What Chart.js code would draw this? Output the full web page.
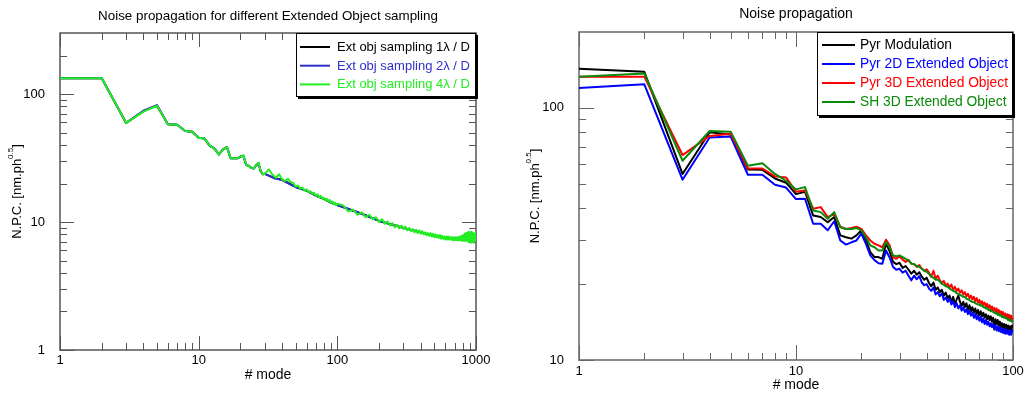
<!DOCTYPE html>
<html>
<head>
<meta charset="utf-8">
<script src="https://cdn.jsdelivr.net/npm/chart.js@4.4.0/dist/chart.umd.min.js"></script>
<style>
  html, body { margin: 0; padding: 0; background: #fff; }
  #wrap { position: relative; width: 1024px; height: 394px; overflow: hidden; }
  canvas { position: absolute; top: 0; }
  #left { left: 0; }
  #right { left: 512px; }
</style>
</head>
<body>
<div id="wrap">
  <canvas id="left" width="512" height="394"></canvas>
  <canvas id="right" width="512" height="394"></canvas>
</div>
<script>
const FONT = 'Liberation Sans, Arial, Helvetica, sans-serif';

// ---- left panel: Ext obj sampling ----
const leftModes = [
  1,2,3,4,5,6,7,8,9,10,11,12,13,14,15,16,17,18,19,20,21,22,23,24,25,26,27,28,29,30,
  32,34,36,38,40,42,44,46,48,50,52,54,56,58,60,62,64,66,68,70,72,74,76,78,80,82,84,86,88,90,92,94,96,98,100,
  110,120,130,140,150,160,170,180,190,200,210,220,230,240,250,260,270,280,290,300,
  310,320,330,340,350,360,370,380,390,400,410,420,430,440,450,460,470,480,490,500,
  510,520,530,540,550,560,570,580,590,600,610,620,630,640,650,660,670,680,690,700,
  710,720,730,740,750,760,770,780,790,800,810,820,830,840,850,860,870,880,890,900,
  910,920,930,940,950,960,970,980,990,1000
];
const leftSampling4 = [
  133,133,59.5,73,81,58,57.5,51.5,50.8,45.5,45,39.5,37.5,33.8,37,38.5,31.5,31.5,31.5,32.5,33.2,28,27.4,26.5,26.2,28,29,25,23.6,23.8,
  25.8,23.5,22.2,23.6,21.5,20.9,21.8,20.5,20.3,18.9,19.3,18.2,18.6,17.6,18.0,17.1,17.4,16.6,16.9,16.0,16.5,15.6,16.0,15.1,15.5,14.8,15.2,14.5,14.9,14.1,14.5,13.8,14.2,13.5,13.9,
  13.5,12.1,12.5,11.4,11.9,10.9,11.4,10.5,10.9,10.0,10.5,9.7,10.1,9.4,9.8,9.1,9.5,8.9,9.4,8.8,
  9.2,8.6,9.0,8.5,8.8,8.3,8.7,8.2,8.6,8.1,8.5,8.0,8.3,7.9,8.2,7.8,8.2,7.7,8.1,7.6,
  8.0,7.6,7.9,7.5,7.9,7.4,7.8,7.4,7.7,7.3,7.7,7.3,7.7,7.3,7.6,7.3,7.6,7.2,7.6,7.2,
  7.6,7.2,7.6,7.2,7.6,7.2,7.7,7.2,7.8,7.1,7.9,7.2,8.1,7.1,8.2,7.2,8.3,7.0,8.4,7.1,
  8.3,6.9,8.4,7.0,8.2,6.9,8.1,7.1,8.2,7.3
];
const coarseModes = [
  1,2,3,4,5,6,7,8,9,10,11,12,13,14,15,16,17,18,19,20,21,22,23,24,25,26,27,28,29,30,
  35,40,50,60,70,80,90,100,150,200,300,400,500,600,700,800,900,1000
];
const leftSampling1 = [
  133,133,59.5,73.5,81.5,58,57.5,51.5,50.8,45.5,45,39.5,37.5,33.8,37,38.5,31.5,31.5,31.5,32.5,33.0,28,27.4,26.5,26.2,27.8,28.8,25,23.6,23.8,
  22.1,21.4,18.8,17.6,16.1,15.2,14.2,13.6,11.6,10.2,9.0,8.3,7.8,7.5,7.4,7.4,7.5,7.6
];
const leftSampling2 = [
  133,133,59.5,74,82,58,57.5,51.5,50.8,45.5,45,39.5,37.5,33.8,37,38.5,31.5,31.5,31.5,32.5,33.0,28,27.4,26.5,26.2,27.8,28.8,25,23.6,23.8,
  22.0,21.3,18.7,17.6,16.1,15.2,14.2,13.6,11.6,10.2,9.0,8.3,7.8,7.5,7.4,7.4,7.5,7.6
];

// ---- right panel: noise propagation ----
const rightModes = [
  1,2,3,4,5,6,7,8,9,10,11,12,13,14,15,16,17,18,19,20,21,22,23,24,25,26,27,28,29,30,
  31,32,33,34,35,36,37,38,39,40,41,42,43,44,45,46,47,48,49,50,51,52,53,54,55,56,57,58,59,60,
  61,62,63,64,65,66,67,68,69,70,71,72,73,74,75,76,77,78,79,80,81,82,83,84,85,86,87,88,89,90,
  91,92,93,94,95,96,97,98,99,100
];
const pyrModulation = [
  143,139,54.7,80,78.4,57,56.8,52.5,50.5,45.5,46.5,37.4,36.9,35.2,36.9,31.2,30.7,30.3,31.2,32.7,30.0,26.8,25.6,25.6,25.2,29.0,27.0,24.5,24.0,24.3,
  23.2,23.6,22.8,22.0,22.6,21.8,22.3,21.4,20.8,21.2,20.2,19.6,20.3,19.0,19.4,18.6,19.0,18.0,18.5,17.6,18.0,17.0,17.8,16.6,17.4,18.0,17.0,16.4,17.0,16.2,
  16.8,15.8,16.5,15.6,16.2,15.4,16.0,15.2,15.8,15.0,15.6,14.9,15.4,14.7,15.2,14.5,15.0,14.4,14.9,14.2,14.7,13.2,14.5,13.9,14.4,13.7,14.2,13.5,14.0,13.4,
  13.9,13.0,13.8,13.2,13.7,12.9,13.6,13.1,13.7,13.5
];
const pyr2D = [
  120,124,51.9,76.3,77,54.3,54.3,49.6,48.3,43.5,43.6,34.7,34.7,32.7,35.5,29.8,28.7,29.3,29.8,31.7,28.9,26.0,24.9,24.2,24.1,27.2,25.5,23.4,22.8,23.0,
  22.2,22.6,21.6,20.7,21.6,20.9,21.5,20.3,19.8,20.0,19.2,18.8,19.4,18.2,18.6,17.9,18.4,17.3,17.7,17.0,17.5,16.6,17.1,16.2,16.8,16.0,16.5,15.7,16.2,15.5,
  15.9,15.2,15.7,15.0,15.4,14.7,15.2,14.5,15.0,14.3,14.8,14.1,14.6,13.9,14.4,13.8,14.2,13.6,14.0,13.5,13.9,13.3,13.7,13.1,13.6,13.0,13.5,12.9,13.3,12.8,
  13.3,12.7,13.2,12.7,13.1,12.6,13.1,12.6,13.0,13.2
];
const pyr3D = [
  133,133,65,77.4,79,57.5,57.5,53.5,53,46.5,47,39.8,40.4,36.9,38.0,33.8,33.1,33.4,33.8,33.1,31.2,29.8,28.9,28.5,28.0,30.0,28.5,25.6,25.2,25.8,
  25.0,24.5,24.9,24.1,24.0,23.4,23.8,23.0,22.6,22.9,22.2,21.4,22.6,21.0,21.6,20.7,20.2,20.6,19.7,20.1,19.4,19.9,19.0,19.5,18.8,19.2,18.5,18.9,18.2,18.6,
  17.9,18.3,17.6,18.0,17.4,17.8,17.1,17.6,16.9,17.3,16.7,17.1,16.5,16.9,16.3,16.7,16.1,16.5,15.9,16.3,15.7,16.1,15.5,16.0,15.3,15.8,15.2,15.6,15.0,15.5,
  14.9,15.3,14.8,15.2,14.6,15.1,14.5,15.0,14.4,14.8
];
const sh3D = [
  133,137,61.7,81,80.5,59,60.3,54.7,51.4,47.5,48.5,39.2,38.6,36.3,38.6,33.6,33.1,33.1,33.4,32.7,30.7,28.5,28.0,27.2,27.2,29.4,28.0,26.0,25.8,26.0,
  25.6,25.2,24.9,24.1,24.0,23.6,23.4,23.0,22.6,22.4,22.0,21.4,21.2,20.8,20.8,20.5,20.0,19.9,19.6,19.5,19.2,19.0,18.8,18.7,18.4,18.3,18.1,18.0,17.8,17.8,
  17.5,17.4,17.3,17.1,17.0,17.0,16.8,16.7,16.6,16.6,16.4,16.5,16.2,16.2,16.0,16.1,15.8,15.8,15.6,15.7,15.5,15.4,15.3,15.4,15.1,15.2,15.0,15.1,14.8,14.9,
  14.7,14.8,14.6,14.6,14.4,14.5,14.3,14.4,14.2,14.3
];

// axis ticks
const leftXMajor = [1, 10, 100, 1000];
const leftXMinor = [2,3,4,5,6,7,8,9,20,30,40,50,60,70,80,90,200,300,400,500,600,700,800,900];
const leftYMajor = [1, 10, 100];
const leftYMinor = [2,3,4,5,6,7,8,9,20,30,40,50,60,70,80,90,200];
const rightXMajor = [1, 10, 100];
const rightXMinor = [2,3,4,5,6,7,8,9,20,30,40,50,60,70,80,90];
const rightYMajor = [10, 100];
const rightYMinor = [20,30,40,50,60,70,80,90];

function pts(xs, ys) {
  return xs.map((x, i) => ({ x: x, y: ys[i] }));
}

// inward ticks on all four sides + frame, title, y title with superscript
const idlAxes = {
  id: 'idlAxes',
  beforeDatasetsDraw(chart, args, o) {
    const { ctx, chartArea: a, scales: { x, y } } = chart;
    ctx.save();
    ctx.strokeStyle = o.color;
    ctx.lineWidth = 1;
    ctx.beginPath();
    const xt = (vals, len) => vals.forEach(v => {
      const px = Math.round(x.getPixelForValue(v)) + 0.5;
      ctx.moveTo(px, a.bottom); ctx.lineTo(px, a.bottom - len);
      ctx.moveTo(px, a.top); ctx.lineTo(px, a.top + len);
    });
    const yt = (vals, len) => vals.forEach(v => {
      const py = Math.round(y.getPixelForValue(v)) + 0.5;
      ctx.moveTo(a.left, py); ctx.lineTo(a.left + len, py);
      ctx.moveTo(a.right, py); ctx.lineTo(a.right - len, py);
    });
    xt(o.xMajor, o.majorLen); xt(o.xMinor, o.minorLen);
    yt(o.yMajor, o.majorLen); yt(o.yMinor, o.minorLen);
    ctx.stroke();
    ctx.lineWidth = 1.5;
    ctx.strokeRect(a.left, a.top, a.right - a.left, a.bottom - a.top);
    ctx.restore();
  },
  afterDraw(chart, args, o) {
    const { ctx, chartArea: a } = chart;
    ctx.save();
    ctx.fillStyle = '#000';
    ctx.textAlign = 'center';
    ctx.textBaseline = 'middle';
    ctx.font = o.titleSize + 'px ' + FONT;
    ctx.fillText(o.title, (a.left + a.right) / 2, o.titleY);

    // y title: N.P.C. [nm.ph^0.5]
    const s = o.yTitleSize;
    const f1 = s + 'px ' + FONT, f2 = Math.round(s * 0.62) + 'px ' + FONT;
    ctx.translate(o.yTitleX, (a.top + a.bottom) / 2);
    ctx.rotate(-Math.PI / 2);
    ctx.textAlign = 'left';
    ctx.font = f1;
    const w1 = ctx.measureText('N.P.C. [nm.ph').width;
    const w3 = ctx.measureText(']').width;
    ctx.font = f2;
    const w2 = ctx.measureText('0.5').width;
    let xx = -(w1 + w2 + w3) / 2;
    ctx.font = f1;
    ctx.fillText('N.P.C. [nm.ph', xx, 0);
    xx += w1;
    ctx.font = f2;
    ctx.fillText('0.5', xx, -s * 0.45);
    xx += w2;
    ctx.font = f1;
    ctx.fillText(']', xx, 0);
    ctx.restore();
  }
};

// boxed legend with drop shadow, top right inside the plot
const boxLegend = {
  id: 'boxLegend',
  afterDatasetsDraw(chart, args, o) {
    const { ctx, chartArea: a } = chart;
    const bx = a.right - o.w, by = a.top;
    ctx.save();
    ctx.fillStyle = '#000';
    ctx.fillRect(bx + 2, by + 2, o.w, o.h);
    ctx.fillStyle = '#fff';
    ctx.fillRect(bx, by, o.w, o.h);
    ctx.strokeStyle = '#000';
    ctx.lineWidth = 1;
    ctx.strokeRect(bx + 0.5, by + 0.5, o.w - 1, o.h - 1);
    ctx.font = o.size + 'px ' + FONT;
    ctx.textBaseline = 'middle';
    ctx.textAlign = 'left';
    chart.data.datasets.forEach((ds, i) => {
      const cy = by + o.row0 + i * o.rowH;
      ctx.strokeStyle = ds.borderColor;
      ctx.lineWidth = 2;
      ctx.beginPath();
      ctx.moveTo(bx + o.line0, cy);
      ctx.lineTo(bx + o.line1, cy);
      ctx.stroke();
      ctx.fillStyle = ds.borderColor;
      ctx.fillText(ds.label, bx + o.textX, cy + 0.5);
    });
    ctx.restore();
  }
};

function logAxis(min, max, major, size, pad, fixed, isX, title) {
  const ax = {
    type: 'logarithmic',
    min: min,
    max: max,
    grid: { display: false },
    border: { display: false },
    ticks: {
      color: '#000',
      font: { family: FONT, size: size },
      padding: pad,
      autoSkip: false,
      maxRotation: 0,
      callback: v => String(v)
    },
    afterBuildTicks: s => { s.ticks = major.map(v => ({ value: v })); },
    afterFit: s => {
      if (isX) { s.height = fixed; s.paddingLeft = 0; s.paddingRight = 0; }
      else { s.width = fixed; s.paddingTop = 0; s.paddingBottom = 0; }
    }
  };
  if (title) ax.title = title;
  return ax;
}

function lineSet(label, data, color, order) {
  return {
    label: label,
    data: data,
    borderColor: color,
    backgroundColor: color,
    borderWidth: 2,
    pointRadius: 0,
    tension: 0,
    fill: false,
    borderJoinStyle: 'round',
    order: order
  };
}

new Chart(document.getElementById('left'), {
  type: 'line',
  data: {
    datasets: [
      lineSet('Ext obj sampling 1\u03bb / D', pts(coarseModes, leftSampling1), '#000000', 3),
      lineSet('Ext obj sampling 2\u03bb / D', pts(coarseModes, leftSampling2), '#3030cc', 2),
      lineSet('Ext obj sampling 4\u03bb / D', pts(leftModes, leftSampling4), '#22ee22', 1)
    ]
  },
  options: {
    responsive: false,
    animation: false,
    events: [],
    layout: { padding: { left: 0, top: 33, right: 36, bottom: 0 } },
    scales: {
      x: logAxis(1, 1000, leftXMajor, 13, -5, 44, true,
        { display: true, text: '# mode', color: '#000', font: { family: FONT, size: 14 }, padding: { top: 0, bottom: 10 } }),
      y: logAxis(1, 300, leftYMajor, 13, 7, 60, false)
    },
    plugins: {
      legend: { display: false },
      tooltip: { enabled: false },
      idlAxes: {
        color: '#555555', majorLen: 14, minorLen: 7,
        xMajor: leftXMajor, xMinor: leftXMinor, yMajor: leftYMajor, yMinor: leftYMinor,
        title: 'Noise propagation for different Extended Object sampling', titleSize: 13.4, titleY: 16,
        yTitleX: 17, yTitleSize: 13
      },
      boxLegend: { w: 180, h: 64, row0: 14, rowH: 18.7, line0: 4, line1: 34, textX: 41, size: 13 }
    }
  },
  plugins: [idlAxes, boxLegend]
});

new Chart(document.getElementById('right'), {
  type: 'line',
  data: {
    datasets: [
      lineSet('Pyr Modulation', pts(rightModes, pyrModulation), '#000000', 4),
      lineSet('Pyr 2D Extended Object', pts(rightModes, pyr2D), '#0000ff', 3),
      lineSet('Pyr 3D Extended Object', pts(rightModes, pyr3D), '#ff0000', 2),
      lineSet('SH 3D Extended Object', pts(rightModes, sh3D), '#0a8a0a', 1)
    ]
  },
  options: {
    responsive: false,
    animation: false,
    events: [],
    layout: { padding: { left: 0, top: 32, right: 11, bottom: 0 } },
    scales: {
      x: logAxis(1, 100, rightXMajor, 13, -4, 34, true,
        { display: true, text: '# mode', color: '#000', font: { family: FONT, size: 14 }, padding: { top: 0, bottom: 0 } }),
      y: logAxis(10, 200, rightYMajor, 13, 7, 67, false)
    },
    plugins: {
      legend: { display: false },
      tooltip: { enabled: false },
      idlAxes: {
        color: '#666666', majorLen: 15, minorLen: 7,
        xMajor: rightXMajor, xMinor: rightXMinor, yMajor: rightYMajor, yMinor: rightYMinor,
        title: 'Noise propagation', titleSize: 14, titleY: 14,
        yTitleX: 23, yTitleSize: 13
      },
      boxLegend: { w: 196, h: 84, row0: 13, rowH: 19, line0: 5, line1: 38, textX: 43, size: 13.8 }
    }
  },
  plugins: [idlAxes, boxLegend]
});
</script>
</body>
</html>
